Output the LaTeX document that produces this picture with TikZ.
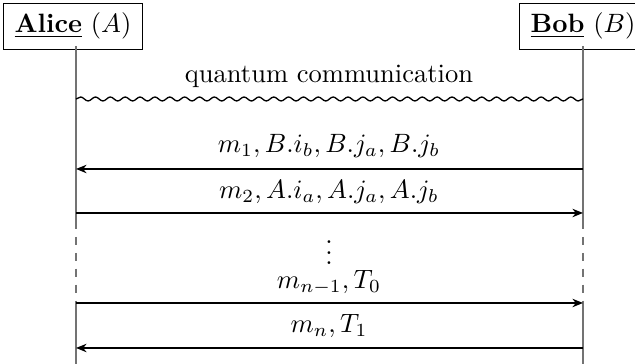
\documentclass[tikz,border=0pt]{standalone}
\usetikzlibrary{decorations.pathmorphing,arrows.meta}
\begin{document}
\begin{tikzpicture}[x=0.377pt,y=-0.377pt,
  actor/.style={draw, inner xsep=4.1pt, inner ysep=3.6pt, font=\normalsize},
  life/.style={draw=black!55, line width=0.5pt},
  msg/.style={draw, line width=0.5pt, -{Stealth[length=4pt,width=3.2pt]}},
  lbl/.style={inner sep=0pt}]
\useasboundingbox (0,0) rectangle (635,364);
\node[actor, anchor=north] (A) at (73,3) {\underline{\textbf{Alice}} $(A)$};
\node[actor, anchor=north] (B) at (583,3) {\underline{\textbf{Bob}} $(B)$};
% lifeline coordinates
\coordinate (A0) at (76,46);  \coordinate (B0) at (583,46);
\coordinate (A1) at (76,99);  \coordinate (B1) at (583,99);
\coordinate (A2) at (76,169); \coordinate (B2) at (583,169);
\coordinate (A3) at (76,213); \coordinate (B3) at (583,213);
\coordinate (A4) at (76,221); \coordinate (B4) at (583,221);
\coordinate (A5) at (76,303); \coordinate (B5) at (583,303);
\coordinate (A6) at (76,348); \coordinate (B6) at (583,348);
\coordinate (A7) at (76,364); \coordinate (B7) at (583,364);
% lifelines
\draw[life] (A0) -- (A4); \draw[life, dashed] (A4) -- (A5); \draw[life] (A5) -- (A7);
\draw[life] (B0) -- (B4); \draw[life, dashed] (B4) -- (B5); \draw[life] (B5) -- (B7);
% quantum
\node[lbl] (q) at (329,76) {quantum communication};
\draw[line width=0.5pt, decorate, decoration={snake, segment length=5.6pt, amplitude=0.75pt}] (A1) -- (B1);
% messages
\node[lbl] (l1) at (329,146) {$m_1, B.i_b, B.j_a, B.j_b$};
\draw[msg] (B2) -- (A2);
\node[lbl] (l2) at (329,192) {$m_2, A.i_a, A.j_a, A.j_b$};
\draw[msg] (A3) -- (B3);
\node[lbl] (d) at (329,245) {$\vdots$};
\node[lbl] (l3) at (329,283) {$m_{n-1}, T_0$};
\draw[msg] (A5) -- (B5);
\node[lbl] (l4) at (329,326) {$m_n, T_1$};
\draw[msg] (B6) -- (A6);
\end{tikzpicture}
\end{document}
